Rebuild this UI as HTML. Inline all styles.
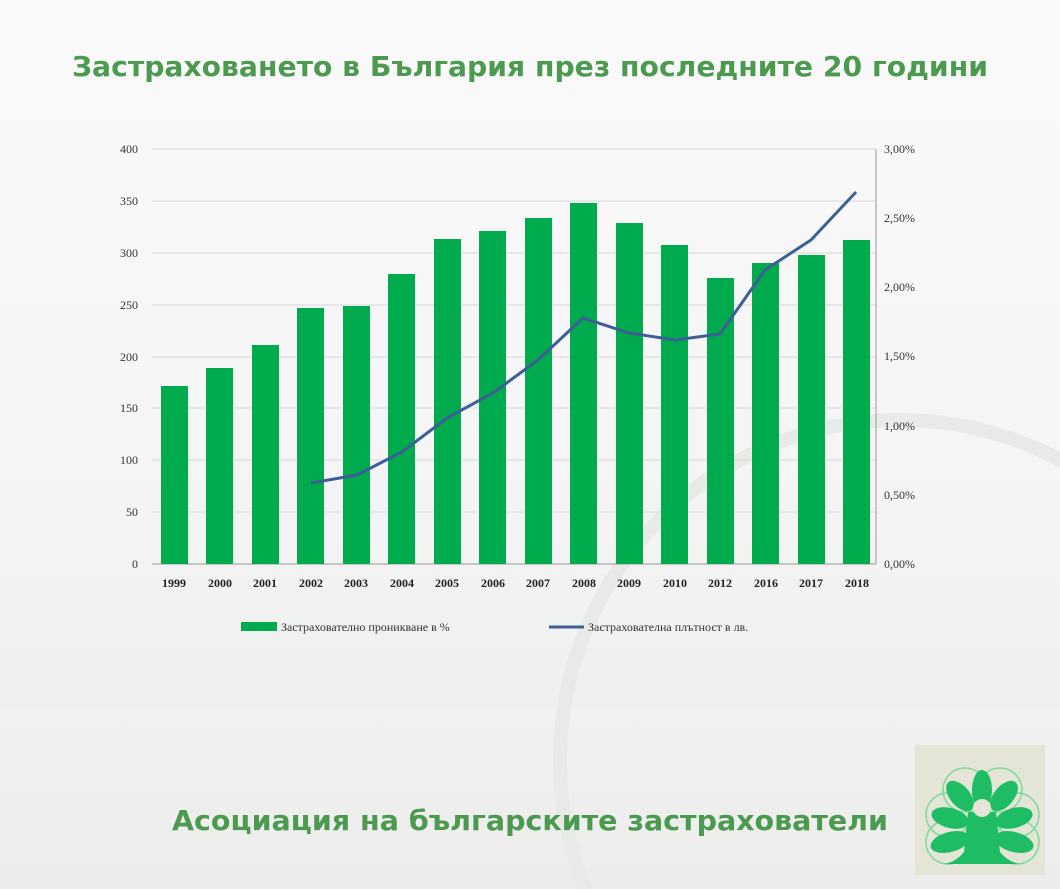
<!DOCTYPE html>
<html><head><meta charset="utf-8"><style>
html,body{margin:0;width:1060px;height:889px;overflow:hidden;font-family:"Liberation Sans","DejaVu Sans",sans-serif;}
.bg{position:absolute;left:0;top:0;width:1060px;height:889px;background:linear-gradient(180deg,#fafafa 0%,#f3f4f3 60%,#eeefee 79%,#f1f1f0 80%,#ececec 100%);}
svg{display:block}
</style></head><body>
<div class="bg"></div>
<svg width="1060" height="889" style="position:absolute;left:0;top:0">
<circle cx="900" cy="760" r="340" fill="none" stroke="#e8eae8" stroke-width="14"/>
<text x="530" y="76" text-anchor="middle" font-family="DejaVu Sans,sans-serif" font-weight="bold" font-size="28" fill="#4b9a50" textLength="916" lengthAdjust="spacingAndGlyphs">Застраховането в България  през последните 20 години</text>
<g stroke="#d6d8d8" stroke-width="1">
<line x1="152" x2="876" y1="149" y2="149"/><line x1="152" x2="876" y1="201" y2="201"/><line x1="152" x2="876" y1="253" y2="253"/><line x1="152" x2="876" y1="305" y2="305"/><line x1="152" x2="876" y1="357" y2="357"/><line x1="152" x2="876" y1="408" y2="408"/><line x1="152" x2="876" y1="460" y2="460"/><line x1="152" x2="876" y1="512" y2="512"/>
</g>
<line x1="152" x2="876" y1="564" y2="564" stroke="#999" stroke-width="1"/>
<line x1="876" x2="876" y1="149" y2="564" stroke="#999" stroke-width="1"/>
<g font-family="Liberation Serif,serif" font-size="12" fill="#333" text-anchor="end">
<text x="138" y="153">400</text><text x="138" y="205">350</text><text x="138" y="257">300</text><text x="138" y="309">250</text><text x="138" y="361">200</text><text x="138" y="412">150</text><text x="138" y="464">100</text><text x="138" y="516">50</text><text x="138" y="568">0</text>
</g>
<g font-family="Liberation Serif,serif" font-size="12" fill="#333">
<text x="884" y="153">3,00%</text><text x="884" y="222">2,50%</text><text x="884" y="291">2,00%</text><text x="884" y="360">1,50%</text><text x="884" y="430">1,00%</text><text x="884" y="499">0,50%</text><text x="884" y="568">0,00%</text>
</g>
<g fill="#00ab4e">
<rect x="161" y="386" width="27" height="178"/><rect x="206" y="368" width="27" height="196"/><rect x="252" y="345" width="27" height="219"/><rect x="297" y="308" width="27" height="256"/><rect x="343" y="306" width="27" height="258"/><rect x="388" y="274" width="27" height="290"/><rect x="434" y="239" width="27" height="325"/><rect x="479" y="231" width="27" height="333"/><rect x="525" y="218" width="27" height="346"/><rect x="570" y="203" width="27" height="361"/><rect x="616" y="223" width="27" height="341"/><rect x="661" y="245" width="27" height="319"/><rect x="707" y="278" width="27" height="286"/><rect x="752" y="263" width="27" height="301"/><rect x="798" y="255" width="27" height="309"/><rect x="843" y="240" width="27" height="324"/>
</g>
<polyline fill="none" stroke="#3d5f96" stroke-width="3" points="311,483 357,475 402,452 447,418 493,393 538,360 583,318 629,333 675,340 720,334 765,270 811,240 856,192"/>
<g font-family="Liberation Serif,serif" font-size="12" font-weight="bold" fill="#222" text-anchor="middle">
<text x="174" y="587">1999</text><text x="220" y="587">2000</text><text x="265" y="587">2001</text><text x="311" y="587">2002</text><text x="356" y="587">2003</text><text x="402" y="587">2004</text><text x="447" y="587">2005</text><text x="493" y="587">2006</text><text x="538" y="587">2007</text><text x="584" y="587">2008</text><text x="629" y="587">2009</text><text x="675" y="587">2010</text><text x="720" y="587">2012</text><text x="766" y="587">2016</text><text x="811" y="587">2017</text><text x="857" y="587">2018</text>
</g>
<rect x="241" y="622" width="36" height="9" fill="#00ab4e"/>
<text x="281" y="631" font-family="Liberation Serif,serif" font-size="12" fill="#333">Застрахователно  проникване в %</text>
<line x1="549" x2="584" y1="627" y2="627" stroke="#3d5f96" stroke-width="3"/>
<text x="588" y="631" font-family="Liberation Serif,serif" font-size="12" fill="#333">Застрахователна  плътност   в лв.</text>
<text x="530" y="830" text-anchor="middle" font-family="DejaVu Sans,sans-serif" font-weight="bold" font-size="28" fill="#4b9a50" textLength="716" lengthAdjust="spacingAndGlyphs">Асоциация на българските застрахователи</text>
<rect x="915" y="745" width="130" height="130" fill="#e4e5d6"/>
<g fill="none" stroke="#7fd9a0" stroke-width="1.5">
<circle cx="965" cy="790" r="22"/><circle cx="1000" cy="790" r="22"/><circle cx="948" cy="815" r="22"/><circle cx="1017" cy="815" r="22"/><circle cx="948" cy="842" r="22"/><circle cx="1017" cy="842" r="22"/>
</g>
<g fill="#1fbd63">
<ellipse cx="982" cy="790" rx="10" ry="20"/>
<ellipse cx="960" cy="796" rx="10" ry="18" transform="rotate(-40 960 796)"/>
<ellipse cx="1004" cy="796" rx="10" ry="18" transform="rotate(40 1004 796)"/>
<ellipse cx="950" cy="818" rx="19" ry="10" transform="rotate(15 950 818)"/>
<ellipse cx="1014" cy="818" rx="19" ry="10" transform="rotate(-15 1014 818)"/>
<ellipse cx="950" cy="842" rx="20" ry="10" transform="rotate(-15 950 842)"/>
<ellipse cx="1014" cy="842" rx="20" ry="10" transform="rotate(15 1014 842)"/>
<path d="M968 812 h28 l4 40 q8 10 20 12 h-76 q12 -2 20 -12 z"/>
</g>
<circle cx="982" cy="808" r="9" fill="#e4e5d6"/>
</svg>
</body></html>
